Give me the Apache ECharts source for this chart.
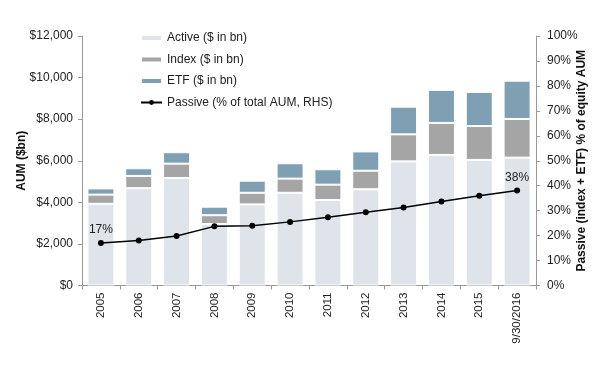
<!DOCTYPE html>
<html>
<head>
<meta charset="utf-8">
<script src="https://cdn.jsdelivr.net/npm/echarts@6/dist/echarts.min.js"></script>
<style>html,body{margin:0;padding:0;background:#fff;}#c{width:599px;height:370px;}</style>
</head>
<body>
<div id="c"></div>
<script>
const categories = ['2005','2006','2007','2008','2009','2010','2011','2012','2013','2014','2015','9/30/2016'];
const activeAUM = [3930, 4680, 5170, 2960, 3900, 4460, 4110, 4630, 5970, 6280, 6040, 6150];
const indexAUM = [440, 590, 690, 420, 560, 680, 740, 890, 1300, 1540, 1630, 1860];
const etfAUM = [300, 370, 550, 410, 580, 740, 740, 930, 1330, 1590, 1640, 1840];
const passivePct = [0.170, 0.180, 0.198, 0.237, 0.239, 0.255, 0.274, 0.294, 0.313, 0.337, 0.360, 0.381];
const leftTicks = [0, 2000, 4000, 6000, 8000, 10000, 12000];

const font = 'Liberation Sans, Arial, Helvetica, sans-serif';
const chart = echarts.init(document.getElementById('c'), null, {renderer: 'canvas'});
const barStyle = (c) => ({color: c, borderColor: '#fff', borderWidth: 1});
chart.setOption({
  animation: false,
  textStyle: {fontFamily: font},
  grid: {left: 82, right: 63, top: 36, bottom: 84.5, containLabel: false, outerBoundsMode: 'none'},
  legend: {
    orient: 'vertical', left: 140, top: 32, padding: 0, itemWidth: 21, itemHeight: 6, itemGap: 9.5,
    textStyle: {fontSize: 12, color: '#222', fontFamily: font},
    data: [
      {name: 'Active ($ in bn)', icon: 'rect'},
      {name: 'Index ($ in bn)', icon: 'rect'},
      {name: 'ETF ($ in bn)', icon: 'rect'},
      {name: 'Passive (% of total AUM, RHS)'}
    ]
  },
  xAxis: {
    type: 'category', data: categories,
    axisLine: {lineStyle: {color: '#999'}},
    axisTick: {show: true, lineStyle: {color: '#999'}, length: 4},
    axisLabel: {rotate: 90, fontSize: 11.5, color: '#222', margin: 7, fontFamily: font}
  },
  yAxis: [{
    type: 'value', min: leftTicks[0], max: leftTicks[leftTicks.length-1], interval: 2000,
    name: 'AUM ($bn)', nameLocation: 'middle', nameGap: 54, nameRotate: 90, nameMoveOverlap: false,
    nameTextStyle: {fontWeight: 'bold', fontSize: 12, color: '#111', fontFamily: font},
    axisLine: {show: true, lineStyle: {color: '#999'}},
    axisTick: {show: true, length: 4, lineStyle: {color: '#999'}},
    splitLine: {show: false},
    axisLabel: {fontSize: 12, color: '#222', margin: 9, fontFamily: font,
      formatter: v => '$' + v.toLocaleString('en-US')}
  }, {
    type: 'value', min: 0, max: 1, interval: 0.1,
    name: 'Passive (index + ETF) % of equity AUM', nameLocation: 'middle', nameGap: 40, nameRotate: 90, nameMoveOverlap: false,
    nameTextStyle: {fontWeight: 'bold', fontSize: 12, color: '#111', fontFamily: font},
    axisLine: {show: true, lineStyle: {color: '#999'}},
    axisTick: {show: true, length: 4, lineStyle: {color: '#999'}},
    splitLine: {show: false},
    axisLabel: {fontSize: 12, color: '#222', margin: 11, fontFamily: font,
      formatter: v => Math.round(v * 100) + '%'}
  }],
  series: [
    {name: 'Active ($ in bn)', type: 'bar', stack: 'aum', data: activeAUM, barWidth: 27, itemStyle: barStyle('#dfe4ea')},
    {name: 'Index ($ in bn)', type: 'bar', stack: 'aum', data: indexAUM, itemStyle: barStyle('#a5a5a5')},
    {name: 'ETF ($ in bn)', type: 'bar', stack: 'aum', data: etfAUM, itemStyle: barStyle('#7f9fb2')},
    {name: 'Passive (% of total AUM, RHS)', type: 'line', yAxisIndex: 1, data: passivePct,
      symbol: 'circle', symbolSize: 6, itemStyle: {color: '#000'}, lineStyle: {color: '#000', width: 1.5},
      label: {show: true, position: 'top', fontSize: 12, color: '#222', distance: 4, fontFamily: font,
        formatter: p => (p.dataIndex === 0 || p.dataIndex === passivePct.length - 1) ? Math.round(p.value * 100) + '%' : ''}
    }
  ]
});
</script>
</body>
</html>
